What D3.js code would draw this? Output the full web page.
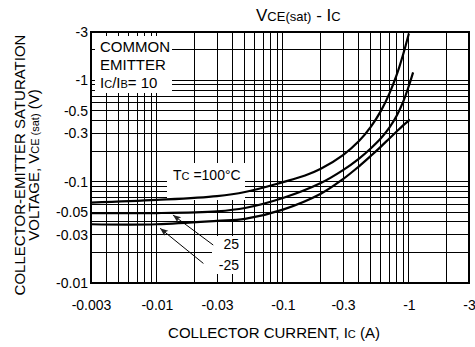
<html>
  <head>
    <meta charset="utf-8">
    <title>VCE(sat) - IC</title>
    <script src="https://cdn.jsdelivr.net/npm/d3@7"></script>
    <style>
      body { margin: 0; background: #fff; }
      svg { font-family: Arial, "Liberation Sans", sans-serif; }
      .grid line { stroke: #000; stroke-width: 1; shape-rendering: crispEdges; }
      .edge line { stroke: #000; stroke-width: 1; shape-rendering: crispEdges; }
      .curve { fill: none; stroke: #000; stroke-width: 2.2; }
      .frame { fill: none; stroke: #000; stroke-width: 2; shape-rendering: crispEdges; }
      .pointer { stroke: #000; stroke-width: 1; }
    </style>
  </head>
  <body>
    <svg width="475" height="347"></svg>
    <script>
      // collector current (A) and saturation voltage (V)
      var current100 = [-0.003, -0.01, -0.03, -0.05, -0.1, -0.15, -0.2, -0.3, -0.4, -0.5, -0.6, -0.7, -0.8, -0.9, -1.0];
      var vce100     = [-0.062, -0.066, -0.072, -0.079, -0.099, -0.115, -0.134, -0.183, -0.25, -0.35, -0.5, -0.74, -1.13, -1.8, -2.9];

      var current25 = [-0.003, -0.01, -0.03, -0.05, -0.1, -0.2, -0.3, -0.4, -0.5, -0.6, -0.7, -0.8, -0.9, -1.0, -1.08];
      var vce25     = [-0.049, -0.049, -0.051, -0.055, -0.069, -0.097, -0.13, -0.168, -0.214, -0.268, -0.341, -0.447, -0.612, -0.884, -1.2];

      var currentM25 = [-0.003, -0.01, -0.03, -0.05, -0.1, -0.2, -0.3, -0.4, -0.5, -0.6, -0.7, -0.8, -0.9, -1.02];
      var vceM25     = [-0.038, -0.038, -0.041, -0.043, -0.053, -0.076, -0.106, -0.141, -0.18, -0.222, -0.267, -0.313, -0.359, -0.41];

      var xTickLabels = [-0.003, -0.01, -0.03, -0.1, -0.3, -1, -3];
      var yTickLabels = [-0.01, -0.03, -0.05, -0.1, -0.3, -0.5, -1, -3];

      // pointers for the 25 / -25 labels, in data units (tail -> head)
      var pointer25  = [[-0.028, -0.0237], [-0.0134, -0.0469]];
      var pointerM25 = [[-0.0234, -0.0156], [-0.0106, -0.0347]];

      var margin = {left: 91, top: 32, right: 6, bottom: 64};
      var svg = d3.select('svg');
      var width = +svg.attr('width') - margin.left - margin.right;
      var height = +svg.attr('height') - margin.top - margin.bottom;

      var x = d3.scaleLog().domain([-0.003, -3]).range([0, width]);
      var y = d3.scaleLog().domain([-0.01, -3]).range([height, 0]);

      var g = svg.append('g').attr('transform', 'translate(' + margin.left + ',' + margin.top + ')');

      // grid
      var grid = g.append('g').attr('class', 'grid');
      grid.selectAll('.v').data(x.ticks()).enter().append('line')
        .attr('x1', function(d){ return x(d); }).attr('x2', function(d){ return x(d); })
        .attr('y1', 0).attr('y2', height);
      grid.selectAll('.h').data(y.ticks()).enter().append('line')
        .attr('y1', function(d){ return y(d); }).attr('y2', function(d){ return y(d); })
        .attr('x1', 0).attr('x2', width);

      // white backgrounds behind the notes
      g.append('rect').attr('fill', '#fff')
        .attr('x', 0).attr('y', 0).attr('width', 81).attr('height', 61);
      g.append('rect').attr('fill', '#fff')
        .attr('x', 76).attr('y', 131).attr('width', 78).attr('height', 37);
      g.append('rect').attr('fill', '#fff')
        .attr('x', 121).attr('y', 204).attr('width', 32).attr('height', 38);

      // short inside ticks on the frame
      var edge = g.append('g').attr('class', 'edge');
      edge.selectAll('.t').data(x.ticks()).enter().append('line')
        .attr('x1', function(d){ return x(d); }).attr('x2', function(d){ return x(d); })
        .attr('y1', 0).attr('y2', 4);
      edge.selectAll('.l').data(y.ticks()).enter().append('line')
        .attr('y1', function(d){ return y(d); }).attr('y2', function(d){ return y(d); })
        .attr('x1', 0).attr('x2', 4);

      // curves
      var line = d3.line()
        .x(function(d){ return x(d[0]); })
        .y(function(d){ return y(d[1]); })
        .curve(d3.curveCatmullRom.alpha(0.5));
      [[current100, vce100], [current25, vce25], [currentM25, vceM25]].forEach(function(s){
        g.append('path').attr('class', 'curve')
          .attr('d', line(d3.zip(s[0], s[1])));
      });

      g.append('rect').attr('class', 'frame').attr('width', width).attr('height', height);

      // axes labels
      var xAxis = g.append('g').attr('transform', 'translate(0,' + height + ')')
        .call(d3.axisBottom(x).tickValues(xTickLabels).tickSize(0).tickPadding(17)
          .tickFormat(function(d){ return String(d); }));
      var yAxis = g.append('g')
        .call(d3.axisLeft(y).tickValues(yTickLabels).tickSize(0).tickPadding(3)
          .tickFormat(function(d){ return String(d); }));
      [xAxis, yAxis].forEach(function(a){
        a.select('.domain').remove();
        a.attr('font-family', null).attr('font-size', null);
        a.selectAll('text').attr('font-size', 14).attr('fill', '#000');
      });

      // notes
      var note = g.append('text').attr('font-size', 15).attr('x', 9);
      note.append('tspan').attr('x', 9).attr('y', 20).text('COMMON');
      note.append('tspan').attr('x', 9).attr('y', 38).text('EMITTER');
      var ratio = g.append('text').attr('font-size', 15).attr('x', 9).attr('y', 56);
      ratio.append('tspan').text('I');
      ratio.append('tspan').attr('font-size', 11).text('C');
      ratio.append('tspan').text('/I');
      ratio.append('tspan').attr('font-size', 11).text('B');
      ratio.append('tspan').text('= 10');

      var tc = g.append('text').attr('font-size', 14).attr('x', 82).attr('y', 148);
      tc.append('tspan').text('T');
      tc.append('tspan').attr('font-size', 11).text('C');
      tc.append('tspan').text(' =100°C');

      g.append('text').attr('font-size', 14).attr('text-anchor', 'end')
        .attr('x', 148).attr('y', 217).text('25');
      g.append('text').attr('font-size', 14).attr('text-anchor', 'end')
        .attr('x', 148).attr('y', 238).text('-25');

      svg.append('defs').append('marker').attr('id', 'head')
        .attr('viewBox', '0 0 10 10').attr('refX', 10).attr('refY', 5)
        .attr('markerUnits', 'userSpaceOnUse')
        .attr('markerWidth', 10).attr('markerHeight', 8)
        .attr('orient', 'auto')
        .append('path').attr('d', 'M0,1 L10,5 L0,9 L2,5 z').attr('fill', '#222');
      [pointer25, pointerM25].forEach(function(p){
        g.append('line').attr('class', 'pointer')
          .attr('x1', x(p[0][0])).attr('y1', y(p[0][1]))
          .attr('x2', x(p[1][0])).attr('y2', y(p[1][1]))
          .attr('marker-end', 'url(#head)');
      });

      // titles
      var title = svg.append('text').attr('x', 256).attr('y', 21).attr('font-size', 17);
      title.append('tspan').text('V');
      title.append('tspan').attr('font-size', 13).text('CE(sat)');
      title.append('tspan').text(' - I');
      title.append('tspan').attr('font-size', 13).text('C');

      var xTitle = svg.append('text').attr('x', 274).attr('y', 338)
        .attr('font-size', 15).attr('text-anchor', 'middle');
      xTitle.append('tspan').text('COLLECTOR CURRENT, I');
      xTitle.append('tspan').attr('font-size', 11).text('C');
      xTitle.append('tspan').text(' (A)');

      svg.append('text').attr('transform', 'translate(25,165) rotate(-90)')
        .attr('font-size', 15).attr('text-anchor', 'middle')
        .text('COLLECTOR-EMITTER SATURATION');
      var yTitle = svg.append('text').attr('transform', 'translate(39,165) rotate(-90)')
        .attr('font-size', 15).attr('text-anchor', 'middle');
      yTitle.append('tspan').text('VOLTAGE, V');
      yTitle.append('tspan').attr('font-size', 11).text('CE (sat)');
      yTitle.append('tspan').text(' (V)');
    </script>
  </body>
</html>
